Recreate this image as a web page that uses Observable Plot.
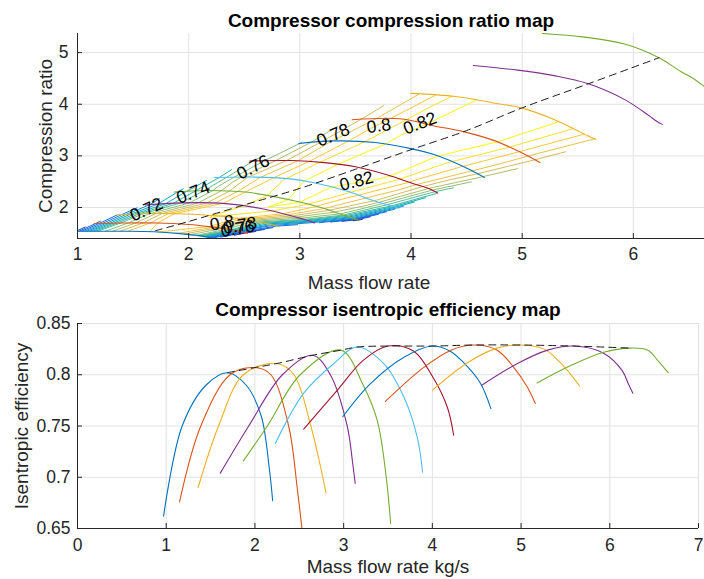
<!DOCTYPE html>
<html><head><meta charset="utf-8">
<script src="https://cdn.jsdelivr.net/npm/d3@7"></script>
<script src="https://cdn.jsdelivr.net/npm/@observablehq/plot@0.6"></script>
<style>
html,body{margin:0;padding:0;background:#fff;}
#chart{width:704px;height:579px;overflow:hidden;position:relative;}
#chart svg{display:block;}
</style></head>
<body><div id="chart"></div>
<script>
// ---------- data ----------
const TOP_TITLE = "Compressor compression ratio map";
const BOTTOM_TITLE = "Compressor isentropic efficiency map";
const TOP_XLABEL = "Mass flow rate";
const TOP_YLABEL = "Compression ratio";
const BOTTOM_XLABEL = "Mass flow rate kg/s";
const BOTTOM_YLABEL = "Isentropic efficiency";

const TOP_X_TICKS = [1, 2, 3, 4, 5, 6];
const TOP_Y_TICKS = [2, 3, 4, 5];
const BOTTOM_X_TICKS = [0, 1, 2, 3, 4, 5, 6, 7];
const BOTTOM_Y_TICKS = [0.65, 0.7, 0.75, 0.8, 0.85];

// mass flow (kg/s) of each speed line sample
const speedM = [
  [0.97, 1.18, 1.45, 1.69, 1.90, 2.07, 2.16, 2.20],
  [1.15, 1.39, 1.72, 2.00, 2.18, 2.38, 2.48, 2.53],
  [1.36, 1.59, 1.87, 2.25, 2.44, 2.63, 2.74, 2.80],
  [1.61, 1.93, 2.31, 2.65, 2.85, 3.04, 3.10, 3.13],
  [1.87, 2.14, 2.51, 2.97, 3.22, 3.38, 3.48, 3.53],
  [2.23, 2.55, 2.89, 3.15, 3.45, 3.68, 3.83, 3.89],
  [2.55, 2.93, 3.22, 3.50, 3.79, 4.01, 4.17, 4.24],
  [2.99, 3.30, 3.68, 4.00, 4.20, 4.35, 4.54, 4.66],
  [3.47, 3.90, 4.21, 4.47, 4.73, 4.92, 5.07, 5.16],
  [4.00, 4.40, 4.73, 4.99, 5.26, 5.44, 5.59, 5.66],
  [4.56, 4.96, 5.30, 5.59, 5.93, 6.14, 6.21, 6.26],
  [5.18, 5.56, 5.93, 6.23, 6.43, 6.54, 6.61, 6.66]
];
// compression ratio at the same samples
const speedPR = [
  [1.54, 1.54, 1.54, 1.53, 1.50, 1.46, 1.43, 1.40],
  [1.69, 1.70, 1.70, 1.67, 1.63, 1.57, 1.53, 1.50],
  [1.86, 1.88, 1.88, 1.84, 1.79, 1.72, 1.67, 1.63],
  [2.05, 2.09, 2.08, 1.98, 1.88, 1.77, 1.73, 1.70],
  [2.30, 2.33, 2.30, 2.12, 1.98, 1.86, 1.79, 1.75],
  [2.58, 2.59, 2.56, 2.47, 2.30, 2.12, 2.03, 1.99],
  [2.90, 2.91, 2.87, 2.79, 2.63, 2.47, 2.36, 2.28],
  [3.24, 3.29, 3.26, 3.14, 3.03, 2.91, 2.72, 2.58],
  [3.70, 3.72, 3.58, 3.47, 3.31, 3.14, 2.98, 2.87],
  [4.21, 4.15, 4.03, 3.93, 3.73, 3.55, 3.39, 3.32],
  [4.75, 4.66, 4.55, 4.40, 4.08, 3.78, 3.67, 3.61],
  [5.37, 5.30, 5.16, 4.90, 4.63, 4.50, 4.39, 4.31]
];
// isentropic efficiency at the same samples
const speedEff = [
  [0.662, 0.750, 0.790, 0.802, 0.790, 0.760, 0.710, 0.677],
  [0.676, 0.750, 0.800, 0.807, 0.800, 0.750, 0.687, 0.650],
  [0.690, 0.750, 0.800, 0.811, 0.800, 0.750, 0.710, 0.685],
  [0.704, 0.750, 0.800, 0.819, 0.800, 0.750, 0.715, 0.694],
  [0.716, 0.750, 0.800, 0.824, 0.790, 0.755, 0.700, 0.655],
  [0.733, 0.782, 0.811, 0.827, 0.811, 0.778, 0.739, 0.705],
  [0.747, 0.785, 0.814, 0.828, 0.823, 0.797, 0.768, 0.741],
  [0.759, 0.791, 0.817, 0.828, 0.823, 0.812, 0.792, 0.767],
  [0.774, 0.807, 0.824, 0.829, 0.824, 0.807, 0.788, 0.772],
  [0.785, 0.812, 0.826, 0.829, 0.825, 0.812, 0.797, 0.789],
  [0.790, 0.811, 0.824, 0.828, 0.821, 0.804, 0.791, 0.782],
  [0.792, 0.809, 0.822, 0.826, 0.824, 0.814, 0.807, 0.802]
];
const PEAK_INDEX = 3;          // sample index of the peak-efficiency point on each line
const CONTOUR_LINE_COUNT = 10; // the contour map covers the first ten speed lines

// dashed peak-efficiency line on the compression ratio map
const dashM  = [1.70, 2.00, 2.50, 3.00, 3.50, 4.00, 4.50, 5.00, 5.60, 6.23];
const dashPR = [1.55, 1.73, 2.05, 2.37, 2.74, 3.12, 3.49, 3.93, 4.40, 4.90];

// efficiency contour levels and inline labels
const CONTOUR_LEVELS = [0.66, 0.67, 0.68, 0.69, 0.70, 0.71, 0.72, 0.73, 0.74, 0.75, 0.76, 0.77, 0.78, 0.79, 0.80, 0.81, 0.82];
const labelText = ["0.72", "0.74", "0.76", "0.78", "0.8", "0.82", "0.82", "0.8", "0.78", "0.76"];
const labelM    = [1.62, 2.04, 2.58, 3.30, 3.71, 4.08, 3.51, 2.30, 2.46, 2.44];
const labelPR   = [1.96, 2.29, 2.78, 3.40, 3.58, 3.63, 2.51, 1.70, 1.65, 1.59];

// ---------- styles ----------
const LABEL_ROT = [-24, -21, -27, -23, -8, -21, -15, -10, -10, -10];
const LINE_COLORS = ["#0072BD", "#D95319", "#EDB120", "#7E2F8E", "#77AC30", "#4DBEEE", "#A2142F"];
const PARULA = ["#352A87", "#0F5CDD", "#1481D6", "#06A4CA", "#2EB7A4", "#87BF77", "#D1BB59", "#FEC832", "#F9FB0E"];
const FONT = "'Liberation Sans', Arial, Helvetica, sans-serif";
const AX = "#262626", GRID = "#e2e2e2";
const TICK_FS = 17.5, LABEL_FS = 19;

// ---------- derived tables ----------
const rows = [];
speedM.forEach((ms, i) => ms.forEach((m, j) => rows.push({line: i, m, pr: speedPR[i][j], eff: speedEff[i][j]})));
const peaks = speedM.map((ms, i) => ({m: ms[PEAK_INDEX], eff: speedEff[i][PEAK_INDEX]}));
const dashRows = dashM.map((m, k) => ({m, pr: dashPR[k]}));
const labels = labelText.map((t, k) => ({t, m: labelM[k], pr: labelPR[k], r: LABEL_ROT[k]}));

const lvMin = d3.min(CONTOUR_LEVELS), lvMax = d3.max(CONTOUR_LEVELS);
const parula = d3.scaleLinear()
  .domain(PARULA.map((_, k) => lvMin + (lvMax - lvMin) * k / (PARULA.length - 1)))
  .range(PARULA).interpolate(d3.interpolateRgb).clamp(true);

// contour segments on the (speed line x sample) grid, like MATLAB contour(M, PR, EFF)
const segs = [];
for (let i = 0; i < CONTOUR_LINE_COUNT - 1; i++) {
  for (let j = 0; j < speedM[i].length - 1; j++) {
    const c = [[i, j], [i, j + 1], [i + 1, j + 1], [i + 1, j]];
    for (const L of CONTOUR_LEVELS) {
      const pts = [];
      for (let k = 0; k < 4; k++) {
        const [a1, b1] = c[k], [a2, b2] = c[(k + 1) % 4];
        const v1 = speedEff[a1][b1] - L, v2 = speedEff[a2][b2] - L;
        if ((v1 < 0) !== (v2 < 0)) {
          const t = v1 / (v1 - v2);
          pts.push([speedM[a1][b1] + t * (speedM[a2][b2] - speedM[a1][b1]),
                    speedPR[a1][b1] + t * (speedPR[a2][b2] - speedPR[a1][b1])]);
        }
      }
      for (let p = 0; p + 1 < pts.length; p += 2) {
        segs.push({x1: pts[p][0], y1: pts[p][1], x2: pts[p + 1][0], y2: pts[p + 1][1], color: parula(L)});
      }
    }
  }
}

// ---------- top chart ----------
const W = 704;
const topMargin = {top: 33, right: 0, bottom: 58, left: 77}, topH = 296;
const topFrameH = topH - topMargin.top - topMargin.bottom, topFrameW = W - topMargin.left - topMargin.right;
const topXDomain = [1, 6.64], topYDomain = [1.40, 5.37];

const topChart = Plot.plot({
  width: W, height: topH,
  marginTop: topMargin.top, marginRight: topMargin.right, marginBottom: topMargin.bottom, marginLeft: topMargin.left,
  style: {fontFamily: FONT, fontSize: TICK_FS + "px", background: "#fff", overflow: "visible"},
  x: {domain: topXDomain, axis: null},
  y: {domain: topYDomain, axis: null},
  color: {type: "identity"},
  marks: [
    Plot.gridX(TOP_X_TICKS, {stroke: GRID, strokeOpacity: 1}),
    Plot.gridY(TOP_Y_TICKS, {stroke: GRID, strokeOpacity: 1}),
    Plot.link(segs, {x1: "x1", y1: "y1", x2: "x2", y2: "y2", stroke: "color", strokeWidth: 1, clip: true}),
    Plot.line(rows, {x: "m", y: "pr", z: "line", stroke: d => LINE_COLORS[d.line % 7], strokeWidth: 1.1, curve: "catmull-rom", clip: true}),
    Plot.line(dashRows, {x: "m", y: "pr", stroke: "#1a1a1a", strokeWidth: 1, strokeDasharray: "7,5", curve: "catmull-rom", clip: true}),
    Plot.text(labels, {x: "m", y: "pr", text: "t", rotate: "r", fontSize: TICK_FS, fill: "#000"}),
    Plot.ruleX([topXDomain[0]], {stroke: AX}),
    Plot.ruleY([topYDomain[0]], {stroke: AX}),
    Plot.tickX(TOP_X_TICKS, {x: d => d, stroke: AX, insetTop: topFrameH - 5}),
    Plot.tickY(TOP_Y_TICKS, {y: d => d, stroke: AX, insetRight: topFrameW - 5}),
    Plot.axisX({ticks: TOP_X_TICKS, tickSize: 0, tickPadding: 9, label: null, fontSize: TICK_FS, fill: AX, tickFormat: d => String(d)}),
    Plot.axisY({ticks: TOP_Y_TICKS, tickSize: 0, tickPadding: 9, label: null, fontSize: TICK_FS, fill: AX, tickFormat: d => String(d)}),
    Plot.text([TOP_TITLE], {text: d => d, frameAnchor: "top", lineAnchor: "bottom", dy: -6.5, fontSize: LABEL_FS, fontWeight: "bold", fill: "#000"}),
    Plot.text([TOP_XLABEL], {text: d => d, frameAnchor: "bottom", lineAnchor: "bottom", textAnchor: "middle", dy: 50, dx: -22, fontSize: LABEL_FS, fill: AX}),
    Plot.text([TOP_YLABEL], {text: d => d, frameAnchor: "left", lineAnchor: "bottom", textAnchor: "middle", rotate: -90, dx: -26, fontSize: LABEL_FS, fill: AX})
  ]
});

// ---------- bottom chart ----------
const botMargin = {top: 27, right: 6, bottom: 51, left: 77}, botH = 283;
const botFrameH = botH - botMargin.top - botMargin.bottom, botFrameW = W - botMargin.left - botMargin.right;
const botXDomain = [0, 7], botYDomain = [0.65, 0.85];

const bottomChart = Plot.plot({
  width: W, height: botH,
  marginTop: botMargin.top, marginRight: botMargin.right, marginBottom: botMargin.bottom, marginLeft: botMargin.left,
  style: {fontFamily: FONT, fontSize: TICK_FS + "px", background: "#fff", overflow: "visible"},
  x: {domain: botXDomain, axis: null},
  y: {domain: botYDomain, axis: null},
  color: {type: "identity"},
  marks: [
    Plot.gridX(BOTTOM_X_TICKS, {stroke: GRID, strokeOpacity: 1}),
    Plot.gridY(BOTTOM_Y_TICKS, {stroke: GRID, strokeOpacity: 1}),
    Plot.line(rows, {x: "m", y: "eff", z: "line", stroke: d => LINE_COLORS[d.line % 7], strokeWidth: 1.1, curve: "catmull-rom", clip: true}),
    Plot.line(peaks, {x: "m", y: "eff", stroke: "#1a1a1a", strokeWidth: 1, strokeDasharray: "7,5", curve: "catmull-rom", clip: true}),
    Plot.ruleX([botXDomain[0]], {stroke: AX}),
    Plot.ruleY([botYDomain[0]], {stroke: AX}),
    Plot.tickX(BOTTOM_X_TICKS, {x: d => d, stroke: AX, insetTop: botFrameH - 5}),
    Plot.tickY(BOTTOM_Y_TICKS, {y: d => d, stroke: AX, insetRight: botFrameW - 5}),
    Plot.axisX({ticks: BOTTOM_X_TICKS, tickSize: 0, tickPadding: 10, label: null, fontSize: TICK_FS, fill: AX, tickFormat: d => String(d)}),
    Plot.axisY({ticks: BOTTOM_Y_TICKS, tickSize: 0, tickPadding: 7, label: null, fontSize: TICK_FS, fill: AX, tickFormat: d => String(d)}),
    Plot.text([BOTTOM_TITLE], {text: d => d, frameAnchor: "top", lineAnchor: "bottom", dy: -8, fontSize: LABEL_FS, fontWeight: "bold", fill: "#000"}),
    Plot.text([BOTTOM_XLABEL], {text: d => d, frameAnchor: "bottom", lineAnchor: "bottom", textAnchor: "middle", dy: 44, fontSize: LABEL_FS, fill: AX}),
    Plot.text([BOTTOM_YLABEL], {text: d => d, frameAnchor: "left", lineAnchor: "bottom", textAnchor: "middle", rotate: -90, dx: -50, fontSize: LABEL_FS, fill: AX})
  ]
});

const root = document.getElementById("chart");
root.appendChild(topChart);
root.appendChild(bottomChart);
</script>
</body></html>
